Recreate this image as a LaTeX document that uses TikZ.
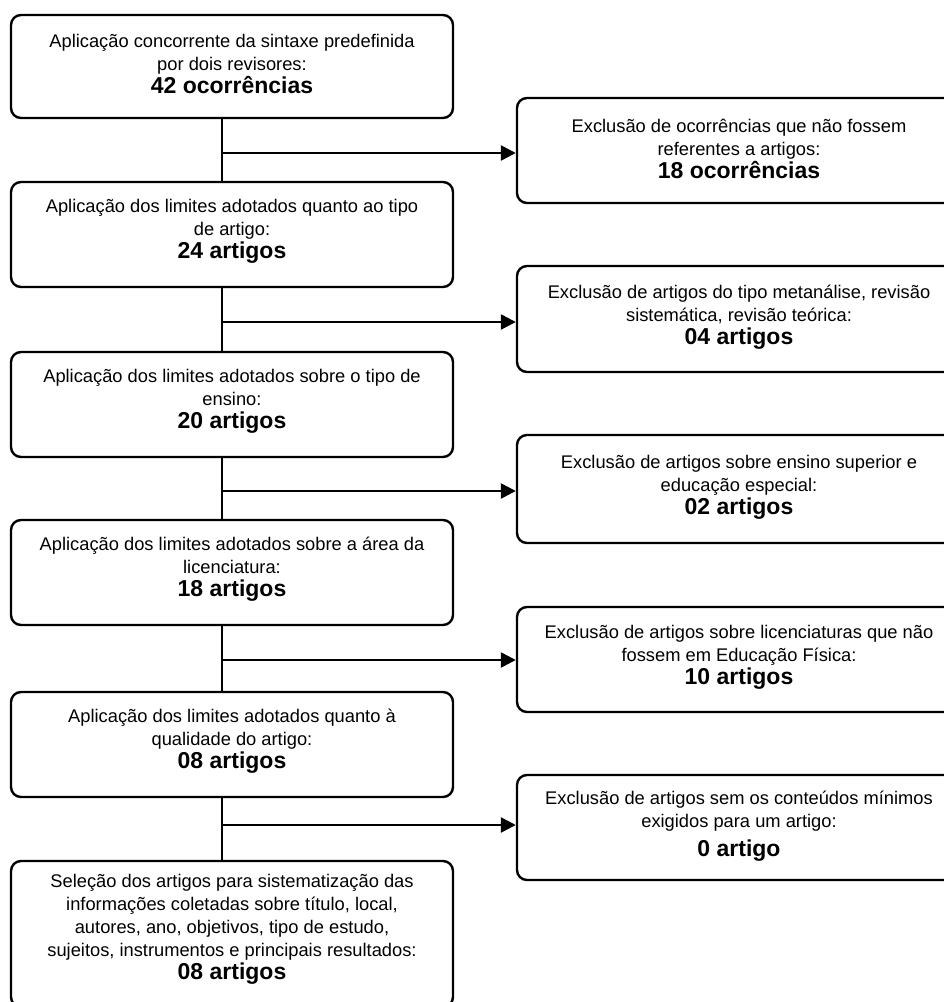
\documentclass[tikz,border=0pt]{standalone}
\usepackage{fontspec}
\setmainfont{Liberation Sans}
\usetikzlibrary{arrows.meta}
\tikzset{
  lbox/.style={draw, line width=2.4pt, rounded corners=10pt,
    minimum width=442pt, inner sep=0pt},
  rbox/.style={lbox, minimum width=444pt},
  txt/.style={align=center, inner sep=0pt, font=\fontsize{18.3}{23}\selectfont},
  conn/.style={line width=2.5pt},
  arr/.style={line width=2.5pt, -{Triangle[length=15pt,width=15pt]}},
}
\newcommand{\bnum}[1]{{\fontsize{23}{23}\selectfont\bfseries #1}}
\begin{document}
\begin{tikzpicture}[x=1pt,y=-1pt]
\useasboundingbox (0,0) rectangle (944,1002);
% left column
\node[lbox, minimum height=103pt] (b1) at (232,66.5) {};
\node[txt] (t1) at ([yshift=3pt]b1.center)
  {Aplicação concorrente da sintaxe predefinida\\por dois revisores:\\\bnum{42 ocorrências}};
\node[lbox, minimum height=105pt] (b2) at (232,234.5) {};
\node[txt] (t2) at ([yshift=3pt]b2.center)
  {Aplicação dos limites adotados quanto ao tipo\\de artigo:\\\bnum{24 artigos}};
\node[lbox, minimum height=105pt] (b3) at (232,404.5) {};
\node[txt] (t3) at ([yshift=3pt]b3.center)
  {Aplicação dos limites adotados sobre o tipo de\\ensino:\\\bnum{20 artigos}};
\node[lbox, minimum height=105pt] (b4) at (232,572.5) {};
\node[txt] (t4) at ([yshift=3pt]b4.center)
  {Aplicação dos limites adotados sobre a área da\\licenciatura:\\\bnum{18 artigos}};
\node[lbox, minimum height=105pt] (b5) at (232,744.5) {};
\node[txt] (t5) at ([yshift=3pt]b5.center)
  {Aplicação dos limites adotados quanto à\\qualidade do artigo:\\\bnum{08 artigos}};
\node[lbox, minimum height=146pt] (b6) at (232,934) {};
\node[txt] (t6) at (232,929)
  {Seleção dos artigos para sistematização das\\informações coletadas sobre título, local,\\autores, ano, objetivos, tipo de estudo,\\sujeitos, instrumentos e principais resultados:\\\bnum{08 artigos}};
% right column
\node[rbox, minimum height=105pt] (r1) at (739,150.5) {};
\node[txt] (u1) at ([yshift=2pt]r1.center)
  {Exclusão de ocorrências que não fossem\\referentes a artigos:\\\bnum{18 ocorrências}};
\node[rbox, minimum height=106pt] (r2) at (739,319) {};
\node[txt] (u2) at ([yshift=2pt]r2.center)
  {Exclusão de artigos do tipo metanálise, revisão\\sistemática, revisão teórica:\\\bnum{04 artigos}};
\node[rbox, minimum height=108pt] (r3) at (739,489) {};
\node[txt] (u3) at ([yshift=2pt]r3.center)
  {Exclusão de artigos sobre ensino superior e\\educação especial:\\\bnum{02 artigos}};
\node[rbox, minimum height=105pt] (r4) at (739,659.5) {};
\node[txt] (u4) at ([yshift=2pt]r4.center)
  {Exclusão de artigos sobre licenciaturas que não\\fossem em Educação Física:\\\bnum{10 artigos}};
\node[rbox, minimum height=105pt] (r5) at (739,827.5) {};
\node[txt] (u5) at ([yshift=1pt]r5.center)
  {Exclusão de artigos sem os conteúdos mínimos\\exigidos para um artigo:\\[6pt]\bnum{0 artigo}};
% spine and junctions
\coordinate (sp) at (222,0);
\coordinate (j1) at (222,153);
\coordinate (j2) at (222,322);
\coordinate (j3) at (222,491);
\coordinate (j4) at (222,660);
\coordinate (j5) at (222,825);
\draw[conn] (b1.south -| sp) -- (b2.north -| sp);
\draw[conn] (b2.south -| sp) -- (b3.north -| sp);
\draw[conn] (b3.south -| sp) -- (b4.north -| sp);
\draw[conn] (b4.south -| sp) -- (b5.north -| sp);
\draw[conn] (b5.south -| sp) -- (b6.north -| sp);
\draw[arr] (j1) -- (j1 -| r1.west);
\draw[arr] (j2) -- (j2 -| r2.west);
\draw[arr] (j3) -- (j3 -| r3.west);
\draw[arr] (j4) -- (j4 -| r4.west);
\draw[arr] (j5) -- (j5 -| r5.west);
\end{tikzpicture}
\end{document}
